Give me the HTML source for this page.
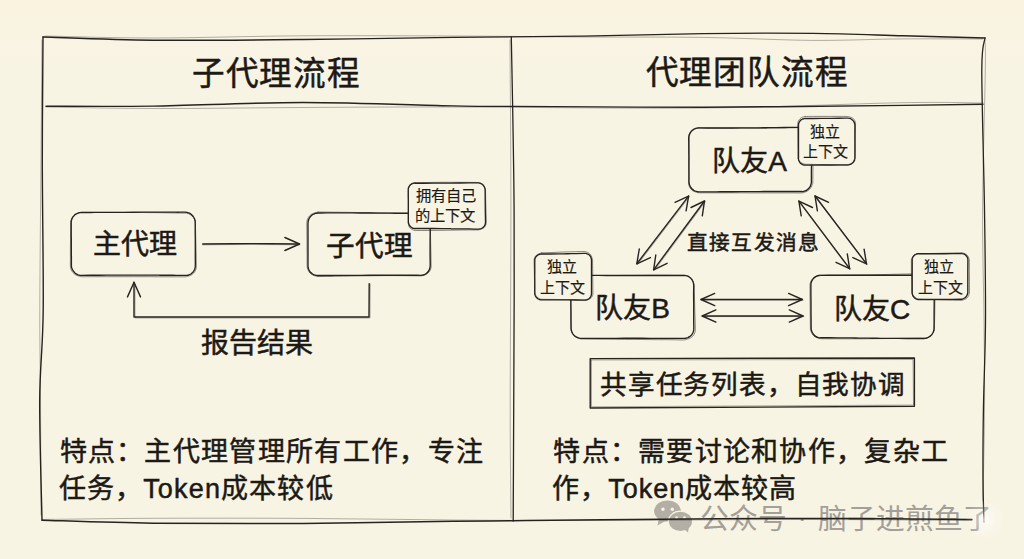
<!DOCTYPE html>
<html lang="zh-CN"><head><meta charset="utf-8">
<style>
html,body{margin:0;padding:0;}
body{width:1024px;height:559px;overflow:hidden;background:linear-gradient(to bottom,#faf3e0 0px,#f8f4e4 70px,#f8f4e4 100%);position:relative;font-family:"Liberation Sans",sans-serif;}
.t{position:absolute;white-space:nowrap;color:#1d1915;line-height:1.448;-webkit-text-stroke:0.5px #1d1915;}
.s{-webkit-text-stroke:0.15px #1d1915;}
.wm{position:absolute;white-space:nowrap;color:#a3a09a;line-height:1.448;}
svg{position:absolute;left:0;top:0;}
</style></head><body>
<svg width="1024" height="559" style="position:absolute;left:0;top:0">
<g fill="#b3afa6">
<ellipse cx="667.5" cy="511" rx="13.4" ry="10.5"/>
<path d="M659,518 L657.5,525.5 L667,520 Z"/>
</g>
<g fill="#f8f4e4"><circle cx="663" cy="509.2" r="1.7"/><circle cx="672.3" cy="509.2" r="1.7"/>
<ellipse cx="680.5" cy="521.4" rx="12.7" ry="10.8"/></g>
<g fill="#b3afa6">
<ellipse cx="680.5" cy="521.4" rx="11.5" ry="9.7"/>
<path d="M684,529 L688,532.5 L689,526 Z"/>
</g>
<g fill="#f8f4e4"><circle cx="676.6" cy="517.5" r="1.3"/><circle cx="684.5" cy="517.5" r="1.3"/></g>
</svg>
<div class="wm" style="left:699.5px;top:498.5px;font-size:28.8px">公众号</div>
<div class="wm" style="left:797.5px;top:497.5px;font-size:28px">·</div>
<div class="wm" style="left:817.5px;top:498.5px;font-size:28.8px">脑子进煎鱼了</div>
<svg width="1024" height="559" viewBox="0 0 1024 559">
<path d="M43.0,37.0 C61.3,37.5 109.7,39.8 153.0,40.2 C196.3,40.6 253.0,40.0 303.0,39.5 C353.0,39.0 406.3,38.0 453.0,37.4 C499.7,36.8 541.3,36.7 583.0,36.1 C624.7,35.5 664.7,34.1 703.0,33.6 C741.3,33.1 779.7,33.0 813.0,33.4 C846.3,33.8 874.3,35.0 903.0,35.8 C931.7,36.6 971.3,37.6 985.0,38.0" fill="none" stroke="#27231f" stroke-width="1.4" stroke-opacity="1.0" stroke-linecap="round" stroke-linejoin="round"/>
<path d="M45.0,36.0 C63.0,36.3 110.0,38.0 153.0,38.0 C196.0,38.0 253.0,36.1 303.0,35.8 C353.0,35.5 406.3,35.8 453.0,36.0 C499.7,36.2 541.3,36.8 583.0,37.0 C624.7,37.2 664.7,36.8 703.0,37.4 C741.3,38.0 779.7,40.1 813.0,40.4 C846.3,40.6 874.7,39.1 903.0,38.9 C931.3,38.7 969.7,39.0 983.0,39.0" fill="none" stroke="#27231f" stroke-width="0.9" stroke-opacity="0.38" stroke-linecap="round" stroke-linejoin="round"/>
<path d="M46.0,106.2 C63.8,106.2 110.2,106.7 153.0,106.1 C195.8,105.5 253.0,102.5 303.0,102.5 C353.0,102.5 418.3,105.2 453.0,105.9 C487.7,106.6 469.3,106.2 511.0,106.4 C552.7,106.6 637.7,107.4 703.0,107.2 C768.3,107.0 856.3,105.9 903.0,105.4 C949.7,104.9 969.7,104.4 983.0,104.2" fill="none" stroke="#27231f" stroke-width="1.4" stroke-opacity="1.0" stroke-linecap="round" stroke-linejoin="round"/>
<path d="M46.0,107.0 C63.8,107.2 110.2,108.4 153.0,108.5 C195.8,108.6 253.0,107.8 303.0,107.5 C353.0,107.2 386.3,106.9 453.0,107.0 C519.7,107.1 628.0,108.7 703.0,108.0 C778.0,107.3 856.3,103.5 903.0,102.7 C949.7,101.9 969.7,103.0 983.0,103.0" fill="none" stroke="#27231f" stroke-width="0.9" stroke-opacity="0.38" stroke-linecap="round" stroke-linejoin="round"/>
<path d="M42.0,520.2 C60.5,520.7 109.5,522.7 153.0,523.2 C196.5,523.7 253.0,523.7 303.0,523.4 C353.0,523.1 418.0,521.7 453.0,521.3 C488.0,520.9 488.0,521.0 513.0,520.8 C538.0,520.5 555.2,520.2 603.0,519.8 C650.8,519.4 738.5,518.4 800.0,518.4 C861.5,518.4 943.3,519.3 972.0,519.5" fill="none" stroke="#27231f" stroke-width="1.5" stroke-opacity="1.0" stroke-linecap="round" stroke-linejoin="round"/>
<path d="M42.0,519.5 C60.5,519.3 109.5,518.5 153.0,518.3 C196.5,518.1 253.0,518.1 303.0,518.4 C353.0,518.7 403.0,519.6 453.0,520.0 C503.0,520.4 545.2,520.6 603.0,520.5 C660.8,520.4 738.5,519.5 800.0,519.5 C861.5,519.5 943.3,520.3 972.0,520.5" fill="none" stroke="#27231f" stroke-width="0.9" stroke-opacity="0.38" stroke-linecap="round" stroke-linejoin="round"/>
<path d="M43.0,37.0 C42.9,57.5 42.3,114.5 42.3,160.0 C42.3,205.5 43.6,270.0 43.2,310.0 C42.8,350.0 39.9,365.0 39.7,400.0 C39.5,435.0 41.6,500.0 42.0,520.0" fill="none" stroke="#27231f" stroke-width="1.4" stroke-opacity="1.0" stroke-linecap="round" stroke-linejoin="round"/>
<path d="M42.0,40.0 C41.8,60.0 41.4,115.0 41.0,160.0 C40.6,205.0 39.9,270.0 39.8,310.0 C39.7,350.0 40.3,365.8 40.5,400.0 C40.7,434.2 40.9,495.8 41.0,515.0" fill="none" stroke="#27231f" stroke-width="0.9" stroke-opacity="0.38" stroke-linecap="round" stroke-linejoin="round"/>
<path d="M511.3,37.0 C511.8,65.8 513.7,147.8 514.1,210.0 C514.5,272.2 513.9,358.2 513.7,410.0 C513.6,461.8 513.3,502.5 513.2,521.0" fill="none" stroke="#27231f" stroke-width="1.3" stroke-opacity="1.0" stroke-linecap="round" stroke-linejoin="round"/>
<path d="M510.0,40.0 C510.1,68.3 510.9,148.3 510.9,210.0 C510.9,271.7 510.2,358.7 510.2,410.0 C510.2,461.3 510.9,500.0 511.0,518.0" fill="none" stroke="#27231f" stroke-width="0.9" stroke-opacity="0.38" stroke-linecap="round" stroke-linejoin="round"/>
<path d="M985.0,38.0 C984.5,43.3 981.9,41.3 981.8,70.0 C981.7,98.7 983.9,168.3 984.5,210.0 C985.1,251.7 985.7,286.7 985.5,320.0 C985.3,353.3 983.8,383.3 983.4,410.0 C983.0,436.7 982.9,461.3 983.0,480.0 C983.1,498.7 983.8,515.0 984.0,522.0" fill="none" stroke="#27231f" stroke-width="1.3" stroke-opacity="1.0" stroke-linecap="round" stroke-linejoin="round"/>
<path d="M985.0,40.0 C985.0,45.0 985.7,41.7 985.3,70.0 C984.9,98.3 982.8,168.3 982.6,210.0 C982.4,251.7 983.7,286.7 984.0,320.0 C984.3,353.3 984.7,380.0 984.5,410.0 C984.3,440.0 983.2,485.0 983.0,500.0" fill="none" stroke="#27231f" stroke-width="0.9" stroke-opacity="0.38" stroke-linecap="round" stroke-linejoin="round"/>
<path d="M81.6,212.5 C83.0,212.5 87.4,212.5 90.2,212.5 C93.1,212.5 96.0,212.4 98.9,212.4 C101.8,212.4 104.6,212.4 107.5,212.4 C110.4,212.4 113.3,212.3 116.2,212.3 C119.0,212.3 121.9,212.3 124.8,212.3 C127.7,212.2 130.6,212.2 133.4,212.2 C136.3,212.2 139.2,212.2 142.1,212.1 C145.0,212.1 147.9,212.1 150.7,212.1 C153.6,212.1 156.5,212.1 159.4,212.1 C162.3,212.1 165.1,212.1 168.0,212.1 C170.9,212.1 173.8,212.1 176.7,212.2 C179.5,212.2 183.5,212.1 185.3,212.2 C187.1,212.3 186.8,212.5 187.5,212.6 C188.2,212.8 188.8,213.0 189.3,213.2 C189.9,213.5 190.5,213.8 191.0,214.2 C191.5,214.6 192.0,215.0 192.4,215.5 C192.9,216.0 193.3,216.5 193.6,217.0 C194.0,217.6 194.3,218.2 194.5,218.8 C194.7,219.4 194.9,220.0 195.1,220.7 C195.2,221.3 195.2,220.8 195.2,222.6 C195.3,224.4 195.2,228.3 195.2,231.2 C195.2,234.1 195.3,237.0 195.3,239.8 C195.3,242.7 195.3,245.6 195.3,248.5 C195.3,251.3 195.3,254.2 195.3,257.1 C195.3,260.0 195.4,263.9 195.3,265.7 C195.3,267.5 195.3,267.0 195.1,267.7 C195.0,268.3 194.8,268.9 194.6,269.5 C194.3,270.1 194.0,270.7 193.6,271.3 C193.2,271.8 192.8,272.3 192.3,272.7 C191.9,273.2 191.3,273.6 190.8,274.0 C190.2,274.3 189.6,274.6 189.0,274.8 C188.3,275.1 187.6,275.3 187.0,275.4 C186.4,275.5 187.0,275.4 185.3,275.4 C183.6,275.3 179.5,275.3 176.7,275.3 C173.8,275.3 170.9,275.2 168.0,275.2 C165.1,275.2 162.3,275.2 159.4,275.2 C156.5,275.1 153.6,275.1 150.7,275.1 C147.9,275.1 145.0,275.1 142.1,275.1 C139.2,275.1 136.3,275.1 133.4,275.1 C130.6,275.1 127.7,275.1 124.8,275.1 C121.9,275.1 119.0,275.1 116.2,275.1 C113.3,275.1 110.4,275.1 107.5,275.1 C104.6,275.2 101.8,275.2 98.9,275.2 C96.0,275.2 93.1,275.2 90.2,275.2 C87.4,275.2 83.3,275.2 81.6,275.3 C79.9,275.3 80.6,275.4 80.0,275.3 C79.4,275.2 78.7,275.0 78.1,274.8 C77.4,274.5 76.8,274.2 76.3,273.9 C75.7,273.5 75.2,273.1 74.7,272.7 C74.2,272.2 73.8,271.7 73.4,271.2 C73.0,270.7 72.7,270.1 72.4,269.5 C72.1,268.9 71.9,268.3 71.7,267.7 C71.6,267.0 71.5,267.5 71.4,265.7 C71.4,263.9 71.4,260.0 71.4,257.1 C71.3,254.2 71.3,251.3 71.3,248.5 C71.3,245.6 71.3,242.7 71.3,239.8 C71.2,237.0 71.2,234.1 71.2,231.2 C71.2,228.3 71.2,224.4 71.2,222.6 C71.3,220.8 71.3,221.2 71.4,220.5 C71.6,219.9 71.8,219.2 72.1,218.6 C72.3,218.0 72.6,217.5 73.0,216.9 C73.4,216.4 73.8,215.9 74.3,215.4 C74.8,215.0 75.3,214.5 75.9,214.2 C76.4,213.8 77.0,213.5 77.6,213.3 C78.2,213.0 78.9,212.9 79.5,212.7 C80.2,212.6 81.3,212.5 81.6,212.5" fill="none" stroke="#27231f" stroke-width="1.35" stroke-opacity="1.0" stroke-linecap="round" stroke-linejoin="round"/>
<path d="M81.6,212.4 C83.0,212.4 87.4,212.4 90.2,212.4 C93.1,212.4 96.0,212.4 98.9,212.4 C101.8,212.4 104.6,212.4 107.5,212.4 C110.4,212.4 113.3,212.4 116.2,212.4 C119.0,212.4 121.9,212.4 124.8,212.4 C127.7,212.4 130.6,212.4 133.4,212.5 C136.3,212.5 139.2,212.5 142.1,212.5 C145.0,212.6 147.9,212.6 150.7,212.6 C153.6,212.7 156.5,212.7 159.4,212.7 C162.3,212.8 165.1,212.8 168.0,212.9 C170.9,212.9 173.8,212.9 176.7,213.0 C179.5,213.0 183.6,213.1 185.3,213.1 C187.0,213.1 186.2,213.0 186.7,213.1 C187.3,213.2 188.0,213.4 188.6,213.7 C189.2,213.9 189.7,214.2 190.3,214.6 C190.8,214.9 191.4,215.3 191.8,215.8 C192.3,216.2 192.8,216.7 193.2,217.3 C193.6,217.8 193.9,218.3 194.2,218.9 C194.5,219.5 194.8,220.1 194.9,220.7 C195.1,221.3 195.2,220.8 195.3,222.6 C195.4,224.4 195.5,228.3 195.6,231.2 C195.6,234.1 195.7,237.0 195.8,239.8 C195.8,242.7 195.9,245.6 196.0,248.5 C196.0,251.3 196.1,254.2 196.2,257.1 C196.2,260.0 196.3,263.9 196.3,265.7 C196.3,267.5 196.3,267.3 196.2,268.1 C196.0,268.8 195.9,269.4 195.6,270.0 C195.4,270.6 195.1,271.2 194.7,271.8 C194.4,272.3 194.0,272.8 193.5,273.3 C193.0,273.8 192.5,274.2 191.9,274.6 C191.4,274.9 190.8,275.3 190.2,275.5 C189.6,275.8 189.1,275.9 188.3,276.1 C187.4,276.3 187.2,276.7 185.3,276.8 C183.4,276.9 179.5,276.8 176.7,276.8 C173.8,276.8 170.9,276.8 168.0,276.8 C165.1,276.8 162.3,276.8 159.4,276.8 C156.5,276.7 153.6,276.7 150.7,276.7 C147.9,276.7 145.0,276.7 142.1,276.7 C139.2,276.7 136.3,276.7 133.4,276.7 C130.6,276.7 127.7,276.7 124.8,276.7 C121.9,276.7 119.0,276.7 116.2,276.7 C113.3,276.7 110.4,276.7 107.5,276.7 C104.6,276.7 101.8,276.7 98.9,276.7 C96.0,276.7 93.1,276.7 90.2,276.7 C87.4,276.7 83.5,276.8 81.6,276.7 C79.7,276.6 79.6,276.2 78.8,276.0 C78.0,275.8 77.5,275.7 76.9,275.4 C76.3,275.2 75.7,274.9 75.1,274.5 C74.6,274.1 74.0,273.7 73.6,273.2 C73.1,272.8 72.6,272.3 72.3,271.7 C71.9,271.2 71.6,270.6 71.3,270.0 C71.0,269.4 70.8,268.8 70.7,268.1 C70.5,267.4 70.4,267.5 70.4,265.7 C70.3,263.9 70.4,260.0 70.4,257.1 C70.4,254.2 70.4,251.3 70.4,248.5 C70.4,245.6 70.5,242.7 70.5,239.8 C70.5,237.0 70.5,234.1 70.6,231.2 C70.6,228.3 70.6,224.4 70.7,222.6 C70.7,220.8 70.8,221.0 71.0,220.4 C71.2,219.7 71.4,219.1 71.7,218.5 C72.0,217.9 72.4,217.3 72.8,216.8 C73.2,216.3 73.6,215.8 74.1,215.3 C74.6,214.9 75.2,214.5 75.7,214.1 C76.3,213.8 76.9,213.5 77.5,213.2 C78.1,213.0 78.8,212.8 79.4,212.7 C80.1,212.5 81.2,212.4 81.6,212.4" fill="none" stroke="#27231f" stroke-width="0.9" stroke-opacity="0.6" stroke-linecap="round" stroke-linejoin="round"/>
<path d="M318.0,213.0 C319.4,213.0 323.7,212.9 326.6,212.9 C329.4,212.9 332.2,212.9 335.1,212.9 C338.0,212.9 340.8,212.9 343.6,212.9 C346.5,212.9 349.3,212.9 352.2,212.9 C355.1,213.0 357.9,213.0 360.8,213.0 C363.6,213.0 366.4,213.0 369.3,213.0 C372.2,213.0 375.0,213.0 377.9,213.1 C380.7,213.1 383.5,213.1 386.4,213.1 C389.2,213.1 392.1,213.2 395.0,213.2 C397.8,213.2 400.6,213.2 403.5,213.2 C406.4,213.2 409.2,213.3 412.1,213.3 C414.9,213.3 418.8,213.3 420.6,213.3 C422.4,213.4 422.0,213.5 422.6,213.6 C423.3,213.8 423.9,214.0 424.4,214.2 C425.0,214.5 425.6,214.8 426.1,215.2 C426.6,215.6 427.1,216.0 427.6,216.5 C428.0,217.0 428.4,217.5 428.7,218.0 C429.1,218.6 429.4,219.2 429.6,219.8 C429.8,220.4 430.0,221.0 430.1,221.7 C430.2,222.3 430.2,221.8 430.2,223.5 C430.2,225.2 430.2,229.1 430.2,231.9 C430.2,234.7 430.2,237.5 430.1,240.3 C430.1,243.1 430.1,245.9 430.1,248.7 C430.1,251.5 430.1,254.3 430.1,257.1 C430.2,259.9 430.2,263.8 430.2,265.5 C430.1,267.2 430.1,266.7 430.0,267.3 C429.9,267.9 429.7,268.6 429.5,269.2 C429.3,269.8 429.0,270.4 428.6,270.9 C428.3,271.5 427.9,272.0 427.4,272.4 C427.0,272.9 426.5,273.3 425.9,273.7 C425.4,274.1 424.8,274.4 424.2,274.6 C423.6,274.9 422.9,275.1 422.3,275.2 C421.7,275.3 422.3,275.2 420.6,275.3 C418.9,275.3 414.9,275.2 412.1,275.2 C409.2,275.2 406.4,275.2 403.5,275.2 C400.6,275.2 397.8,275.2 395.0,275.2 C392.1,275.2 389.3,275.2 386.4,275.2 C383.6,275.2 380.7,275.2 377.9,275.2 C375.0,275.2 372.2,275.2 369.3,275.2 C366.4,275.2 363.6,275.2 360.8,275.3 C357.9,275.3 355.1,275.3 352.2,275.3 C349.4,275.3 346.5,275.3 343.6,275.3 C340.8,275.4 338.0,275.4 335.1,275.4 C332.2,275.4 329.4,275.5 326.6,275.5 C323.7,275.5 319.8,275.6 318.0,275.5 C316.2,275.5 316.6,275.5 316.0,275.4 C315.3,275.2 314.7,275.0 314.1,274.8 C313.5,274.6 312.9,274.2 312.3,273.9 C311.8,273.5 311.3,273.1 310.8,272.6 C310.3,272.2 309.9,271.7 309.6,271.1 C309.2,270.6 308.9,270.0 308.7,269.4 C308.4,268.8 308.3,268.1 308.1,267.5 C308.0,266.8 308.0,267.2 308.0,265.5 C308.0,263.8 308.0,259.9 308.0,257.1 C308.0,254.3 308.0,251.5 308.0,248.7 C308.0,245.9 308.0,243.1 308.0,240.3 C308.0,237.5 308.0,234.7 308.0,231.9 C308.0,229.1 308.0,225.2 308.0,223.5 C308.0,221.8 308.0,222.2 308.2,221.5 C308.3,220.9 308.4,220.2 308.7,219.6 C308.9,219.0 309.2,218.4 309.5,217.9 C309.8,217.3 310.2,216.8 310.7,216.3 C311.1,215.8 311.6,215.4 312.1,215.0 C312.6,214.6 313.2,214.3 313.8,214.1 C314.4,213.8 314.9,213.6 315.6,213.4 C316.3,213.3 317.6,213.0 318.0,213.0" fill="none" stroke="#27231f" stroke-width="1.35" stroke-opacity="1.0" stroke-linecap="round" stroke-linejoin="round"/>
<path d="M318.0,212.0 C319.4,212.0 323.7,212.1 326.6,212.1 C329.4,212.1 332.2,212.1 335.1,212.2 C338.0,212.2 340.8,212.3 343.6,212.3 C346.5,212.3 349.3,212.4 352.2,212.4 C355.1,212.5 357.9,212.5 360.8,212.6 C363.6,212.6 366.4,212.7 369.3,212.7 C372.2,212.8 375.0,212.8 377.9,212.9 C380.7,212.9 383.5,213.0 386.4,213.0 C389.2,213.1 392.1,213.2 395.0,213.2 C397.8,213.3 400.6,213.3 403.5,213.4 C406.4,213.5 409.2,213.5 412.1,213.6 C414.9,213.6 418.9,213.7 420.6,213.7 C422.3,213.8 421.6,213.8 422.2,213.9 C422.8,214.0 423.4,214.2 424.0,214.5 C424.5,214.8 425.1,215.1 425.6,215.5 C426.1,215.8 426.6,216.3 427.1,216.7 C427.5,217.2 428.0,217.7 428.3,218.2 C428.7,218.7 429.0,219.3 429.3,219.9 C429.5,220.5 429.8,221.1 429.9,221.7 C430.1,222.3 430.2,221.8 430.2,223.5 C430.3,225.2 430.3,229.1 430.4,231.9 C430.5,234.7 430.5,237.5 430.6,240.3 C430.7,243.1 430.7,245.9 430.8,248.7 C430.9,251.5 430.9,254.3 431.0,257.1 C431.0,259.9 431.1,263.7 431.1,265.5 C431.1,267.3 431.1,267.0 431.0,267.7 C430.9,268.4 430.8,269.0 430.5,269.6 C430.3,270.2 430.0,270.8 429.6,271.4 C429.2,271.9 428.8,272.4 428.3,272.9 C427.9,273.3 427.3,273.8 426.8,274.1 C426.2,274.5 425.6,274.8 424.9,275.0 C424.3,275.3 423.7,275.4 423.0,275.5 C422.2,275.7 422.4,275.8 420.6,275.9 C418.8,275.9 414.9,275.8 412.1,275.8 C409.2,275.7 406.4,275.7 403.5,275.7 C400.6,275.7 397.8,275.6 395.0,275.6 C392.1,275.6 389.3,275.6 386.4,275.6 C383.6,275.7 380.7,275.7 377.9,275.7 C375.0,275.7 372.2,275.7 369.3,275.8 C366.4,275.8 363.6,275.8 360.8,275.9 C357.9,275.9 355.1,276.0 352.2,276.0 C349.4,276.1 346.5,276.1 343.6,276.2 C340.8,276.2 338.0,276.2 335.1,276.3 C332.2,276.3 329.4,276.4 326.6,276.4 C323.7,276.4 319.9,276.6 318.0,276.5 C316.1,276.4 316.0,276.0 315.2,275.8 C314.4,275.6 313.9,275.5 313.3,275.2 C312.7,275.0 312.1,274.7 311.5,274.3 C311.0,273.9 310.5,273.5 310.0,273.0 C309.6,272.5 309.1,272.0 308.8,271.5 C308.4,270.9 308.1,270.3 307.9,269.7 C307.6,269.1 307.5,268.5 307.3,267.8 C307.2,267.1 307.1,267.3 307.1,265.5 C307.0,263.7 307.1,259.9 307.1,257.1 C307.1,254.3 307.1,251.5 307.0,248.7 C307.0,245.9 307.0,243.1 307.0,240.3 C307.0,237.5 306.9,234.7 306.9,231.9 C306.9,229.1 306.8,225.3 306.8,223.5 C306.8,221.7 306.9,221.8 307.0,221.1 C307.1,220.4 307.3,219.8 307.5,219.2 C307.7,218.5 308.0,217.9 308.4,217.4 C308.7,216.8 309.1,216.3 309.6,215.8 C310.0,215.3 310.5,214.9 311.1,214.5 C311.6,214.1 312.2,213.8 312.8,213.5 C313.4,213.3 313.9,213.2 314.7,212.9 C315.6,212.7 317.5,212.2 318.0,212.0" fill="none" stroke="#27231f" stroke-width="0.9" stroke-opacity="0.6" stroke-linecap="round" stroke-linejoin="round"/>
<path d="M415.0,183.0 L424.0,183.0 L433.0,183.0 L442.0,183.0 L451.0,183.0 L460.0,183.0 L469.0,183.0 L478.0,183.0 L479.4,183.1 L480.7,183.5 L481.9,184.2 L482.9,185.1 L483.8,186.1 L484.5,187.3 L484.9,188.6 L485.0,190.0 L485.0,200.6 L485.0,211.2 L485.0,221.8 L484.9,223.2 L484.5,224.5 L483.8,225.7 L482.9,226.7 L481.9,227.6 L480.7,228.3 L479.4,228.7 L478.0,228.8 L469.0,228.8 L460.0,228.8 L451.0,228.8 L442.0,228.8 L433.0,228.8 L424.0,228.8 L415.0,228.8 L413.6,228.7 L412.3,228.3 L411.1,227.6 L410.1,226.7 L409.2,225.7 L408.5,224.5 L408.1,223.2 L408.0,221.8 L408.0,211.2 L408.0,200.6 L408.0,190.0 L408.1,188.6 L408.5,187.3 L409.2,186.1 L410.1,185.1 L411.1,184.2 L412.3,183.5 L413.6,183.1 L415.0,183.0Z" fill="#f8f4e4" stroke="none"/>
<path d="M415.0,183.2 C416.5,183.2 421.0,183.2 424.0,183.2 C427.0,183.2 430.0,183.2 433.0,183.1 C436.0,183.1 439.0,183.1 442.0,183.1 C445.0,183.1 448.0,183.1 451.0,183.1 C454.0,183.0 457.0,183.0 460.0,183.0 C463.0,183.0 466.0,183.0 469.0,182.9 C472.0,182.9 476.3,182.9 478.0,182.9 C479.7,182.9 479.0,183.0 479.5,183.1 C479.9,183.2 480.3,183.3 480.8,183.5 C481.2,183.7 481.6,183.9 482.0,184.1 C482.3,184.4 482.7,184.7 483.0,185.0 C483.3,185.3 483.6,185.7 483.9,186.1 C484.1,186.5 484.3,186.9 484.5,187.3 C484.7,187.7 484.8,188.2 484.9,188.6 C485.0,189.1 485.1,188.0 485.1,190.0 C485.2,192.0 485.2,197.1 485.2,200.6 C485.3,204.1 485.3,207.7 485.3,211.2 C485.4,214.7 485.5,219.8 485.5,221.8 C485.5,223.8 485.5,222.9 485.4,223.4 C485.3,223.9 485.2,224.3 485.1,224.8 C484.9,225.2 484.7,225.6 484.4,226.0 C484.2,226.4 483.9,226.8 483.5,227.1 C483.2,227.4 482.8,227.7 482.4,228.0 C482.0,228.2 481.6,228.4 481.1,228.6 C480.7,228.7 480.2,228.8 479.7,228.9 C479.2,229.0 479.8,229.1 478.0,229.1 C476.2,229.1 472.0,229.0 469.0,228.9 C466.0,228.9 463.0,228.8 460.0,228.8 C457.0,228.7 454.0,228.7 451.0,228.7 C448.0,228.6 445.0,228.6 442.0,228.6 C439.0,228.6 436.0,228.6 433.0,228.5 C430.0,228.5 427.0,228.5 424.0,228.5 C421.0,228.5 416.7,228.5 415.0,228.5 C413.3,228.5 414.3,228.5 413.9,228.5 C413.5,228.4 413.0,228.3 412.6,228.1 C412.2,227.9 411.8,227.7 411.4,227.4 C411.0,227.2 410.7,226.9 410.4,226.6 C410.1,226.2 409.8,225.9 409.5,225.5 C409.3,225.1 409.1,224.7 408.9,224.3 C408.7,223.9 408.6,223.4 408.5,223.0 C408.4,222.6 408.4,223.8 408.4,221.8 C408.3,219.8 408.3,214.7 408.3,211.2 C408.3,207.7 408.3,204.1 408.3,200.6 C408.2,197.1 408.2,192.0 408.2,190.0 C408.2,188.0 408.2,189.1 408.3,188.7 C408.3,188.3 408.5,187.8 408.6,187.4 C408.8,186.9 409.0,186.5 409.3,186.1 C409.5,185.8 409.8,185.4 410.1,185.1 C410.4,184.8 410.8,184.5 411.2,184.2 C411.6,184.0 412.0,183.8 412.4,183.6 C412.8,183.4 413.3,183.3 413.8,183.2 C414.2,183.1 414.8,183.2 415.0,183.2" fill="none" stroke="#27231f" stroke-width="1.35" stroke-opacity="1.0" stroke-linecap="round" stroke-linejoin="round"/>
<path d="M415.0,182.7 C416.5,182.7 421.0,182.6 424.0,182.6 C427.0,182.5 430.0,182.5 433.0,182.4 C436.0,182.4 439.0,182.4 442.0,182.3 C445.0,182.3 448.0,182.3 451.0,182.3 C454.0,182.3 457.0,182.3 460.0,182.3 C463.0,182.3 466.0,182.3 469.0,182.4 C472.0,182.4 476.2,182.4 478.0,182.5 C479.8,182.6 479.2,182.8 479.7,182.9 C480.2,183.1 480.5,183.2 480.9,183.4 C481.3,183.6 481.6,183.9 482.0,184.1 C482.3,184.4 482.7,184.7 483.0,185.0 C483.3,185.4 483.6,185.7 483.8,186.1 C484.1,186.5 484.3,186.9 484.5,187.3 C484.8,187.7 484.9,188.1 485.1,188.5 C485.2,189.0 485.4,188.0 485.5,190.0 C485.6,192.0 485.6,197.1 485.7,200.6 C485.8,204.1 485.9,207.7 486.0,211.2 C486.0,214.7 486.2,219.7 486.2,221.8 C486.2,223.9 486.2,223.2 486.1,223.7 C486.0,224.3 485.9,224.7 485.7,225.1 C485.6,225.5 485.3,226.0 485.1,226.4 C484.8,226.7 484.5,227.1 484.1,227.4 C483.8,227.7 483.4,228.0 483.0,228.3 C482.6,228.5 482.1,228.7 481.7,228.9 C481.2,229.1 480.9,229.1 480.3,229.3 C479.7,229.5 479.9,229.8 478.0,229.9 C476.1,230.0 472.0,229.9 469.0,229.9 C466.0,230.0 463.0,230.0 460.0,230.0 C457.0,230.1 454.0,230.1 451.0,230.2 C448.0,230.2 445.0,230.3 442.0,230.3 C439.0,230.3 436.0,230.4 433.0,230.4 C430.0,230.4 427.0,230.5 424.0,230.5 C421.0,230.5 416.9,230.6 415.0,230.4 C413.1,230.3 413.0,229.8 412.4,229.5 C411.8,229.3 411.6,229.2 411.2,229.0 C410.9,228.8 410.5,228.5 410.2,228.2 C409.9,227.8 409.7,227.5 409.4,227.1 C409.2,226.7 409.0,226.3 408.8,225.9 C408.7,225.4 408.6,225.0 408.5,224.5 C408.4,224.1 408.3,223.6 408.3,223.1 C408.3,222.6 408.3,223.8 408.3,221.8 C408.4,219.8 408.4,214.7 408.5,211.2 C408.5,207.7 408.5,204.1 408.5,200.6 C408.5,197.1 408.5,192.0 408.5,190.0 C408.5,188.0 408.5,189.2 408.5,188.8 C408.6,188.4 408.7,187.9 408.9,187.5 C409.0,187.1 409.2,186.6 409.4,186.2 C409.7,185.9 409.9,185.5 410.2,185.1 C410.5,184.8 410.8,184.5 411.2,184.2 C411.5,183.9 411.9,183.7 412.3,183.5 C412.7,183.3 413.0,183.2 413.5,183.0 C413.9,182.9 414.7,182.8 415.0,182.7" fill="none" stroke="#27231f" stroke-width="0.9" stroke-opacity="0.6" stroke-linecap="round" stroke-linejoin="round"/>
<path d="M202.7,244.0 C210.6,243.9 233.9,243.6 250.0,243.6 C266.1,243.6 291.2,243.9 299.5,244.0" fill="none" stroke="#27231f" stroke-width="1.4" stroke-opacity="1.0" stroke-linecap="round" stroke-linejoin="round"/>
<path d="M202.7,244.9 C210.6,244.8 233.9,244.5 250.0,244.5 C266.1,244.5 291.2,244.8 299.5,244.9" fill="none" stroke="#27231f" stroke-width="0.8" stroke-opacity="0.45" stroke-linecap="round" stroke-linejoin="round"/>
<path d="M284.9,237.5 L299.5,244.0 L284.9,250.5" fill="none" stroke="#27231f" stroke-width="1.4" stroke-opacity="1.0" stroke-linecap="round" stroke-linejoin="round"/>
<path d="M369.2,283.7 L369.0,317.0 L134.0,317.0 L134.0,282.3" fill="none" stroke="#27231f" stroke-width="1.4" stroke-opacity="1.0" stroke-linecap="round" stroke-linejoin="round"/>
<path d="M370.2,284.0 L370.0,318.0 L135.0,318.0 L135.0,284.0" fill="none" stroke="#27231f" stroke-width="0.8" stroke-opacity="0.45" stroke-linecap="round" stroke-linejoin="round"/>
<path d="M127.5,296.9 L134.0,282.3 L140.5,296.9" fill="none" stroke="#27231f" stroke-width="1.4" stroke-opacity="1.0" stroke-linecap="round" stroke-linejoin="round"/>
<path d="M699.0,127.9 C700.4,127.9 704.7,127.9 707.5,128.0 C710.4,128.0 713.2,128.0 716.1,128.0 C719.0,128.0 721.8,128.0 724.6,128.0 C727.5,128.0 730.4,128.0 733.2,128.0 C736.1,127.9 738.9,127.9 741.8,127.9 C744.6,127.9 747.4,127.9 750.3,127.8 C753.1,127.8 756.0,127.8 758.9,127.8 C761.7,127.7 764.5,127.7 767.4,127.7 C770.2,127.6 773.1,127.6 776.0,127.6 C778.8,127.5 781.6,127.5 784.5,127.5 C787.4,127.5 790.2,127.4 793.0,127.4 C795.9,127.4 799.8,127.3 801.6,127.4 C803.4,127.4 803.4,127.7 804.1,127.9 C804.8,128.0 805.4,128.2 806.0,128.4 C806.6,128.7 807.1,129.0 807.7,129.4 C808.2,129.8 808.7,130.2 809.1,130.7 C809.6,131.2 810.0,131.7 810.3,132.3 C810.7,132.8 810.9,133.4 811.2,134.0 C811.4,134.7 811.5,135.3 811.6,136.0 C811.7,136.6 811.7,136.2 811.7,138.0 C811.7,139.8 811.7,143.9 811.6,146.8 C811.6,149.7 811.6,152.7 811.6,155.6 C811.5,158.5 811.5,161.5 811.5,164.4 C811.5,167.3 811.4,170.3 811.4,173.2 C811.4,176.1 811.4,180.2 811.4,182.0 C811.3,183.8 811.3,183.2 811.1,183.8 C811.0,184.5 810.8,185.1 810.5,185.7 C810.3,186.3 810.0,186.9 809.6,187.4 C809.2,187.9 808.8,188.4 808.3,188.9 C807.8,189.3 807.3,189.8 806.8,190.1 C806.2,190.5 805.6,190.8 805.0,191.0 C804.4,191.2 803.7,191.5 803.1,191.6 C802.6,191.6 803.3,191.5 801.6,191.5 C799.9,191.5 795.9,191.5 793.1,191.5 C790.2,191.5 787.4,191.5 784.5,191.5 C781.6,191.5 778.8,191.5 776.0,191.5 C773.1,191.5 770.2,191.5 767.4,191.5 C764.5,191.5 761.7,191.5 758.9,191.6 C756.0,191.6 753.1,191.6 750.3,191.6 C747.4,191.6 744.6,191.6 741.8,191.6 C738.9,191.7 736.1,191.7 733.2,191.7 C730.4,191.7 727.5,191.7 724.6,191.7 C721.8,191.7 719.0,191.8 716.1,191.8 C713.2,191.8 710.4,191.8 707.5,191.8 C704.7,191.8 700.7,191.8 699.0,191.8 C697.3,191.8 697.8,191.8 697.2,191.7 C696.6,191.6 695.9,191.4 695.3,191.2 C694.7,190.9 694.1,190.6 693.6,190.2 C693.1,189.9 692.5,189.5 692.1,189.0 C691.6,188.5 691.2,188.0 690.8,187.5 C690.5,187.0 690.1,186.4 689.9,185.8 C689.6,185.2 689.4,184.5 689.3,183.9 C689.1,183.3 689.1,183.8 689.0,182.0 C689.0,180.2 689.0,176.1 689.0,173.2 C689.0,170.3 688.9,167.3 688.9,164.4 C688.9,161.5 688.9,158.5 688.9,155.6 C688.8,152.7 688.8,149.7 688.8,146.8 C688.8,143.9 688.7,139.8 688.7,138.0 C688.8,136.2 688.8,136.6 688.9,135.9 C689.0,135.3 689.2,134.7 689.5,134.0 C689.7,133.4 690.0,132.9 690.4,132.3 C690.8,131.8 691.2,131.3 691.7,130.8 C692.1,130.3 692.7,129.9 693.2,129.6 C693.8,129.2 694.4,128.9 695.0,128.7 C695.6,128.4 696.3,128.2 696.9,128.1 C697.6,128.0 698.7,127.9 699.0,127.9" fill="none" stroke="#27231f" stroke-width="1.35" stroke-opacity="1.0" stroke-linecap="round" stroke-linejoin="round"/>
<path d="M699.0,128.0 C700.4,128.0 704.7,128.0 707.5,128.0 C710.4,128.0 713.2,128.0 716.1,128.0 C719.0,128.0 721.8,128.1 724.6,128.1 C727.5,128.1 730.4,128.1 733.2,128.1 C736.1,128.1 738.9,128.1 741.8,128.1 C744.6,128.2 747.4,128.2 750.3,128.2 C753.1,128.2 756.0,128.2 758.9,128.2 C761.7,128.2 764.5,128.1 767.4,128.1 C770.2,128.1 773.1,128.1 776.0,128.0 C778.8,128.0 781.6,128.0 784.5,127.9 C787.4,127.9 790.2,127.8 793.0,127.8 C795.9,127.7 799.8,127.5 801.6,127.5 C803.4,127.6 803.4,127.7 804.1,127.8 C804.9,128.0 805.6,128.1 806.2,128.3 C806.9,128.5 807.6,128.8 808.2,129.1 C808.8,129.5 809.4,129.9 809.9,130.3 C810.4,130.8 810.9,131.3 811.3,131.8 C811.7,132.3 812.1,132.9 812.3,133.5 C812.6,134.1 812.8,134.7 813.0,135.4 C813.1,136.2 813.2,136.1 813.3,138.0 C813.3,139.9 813.3,143.9 813.2,146.8 C813.2,149.7 813.2,152.7 813.2,155.6 C813.1,158.5 813.1,161.5 813.0,164.4 C813.0,167.3 812.9,170.3 812.9,173.2 C812.9,176.1 812.9,180.1 812.8,182.0 C812.7,183.9 812.6,183.6 812.4,184.3 C812.2,185.0 812.0,185.6 811.7,186.2 C811.4,186.8 811.1,187.4 810.7,187.9 C810.3,188.5 809.9,189.0 809.4,189.5 C809.0,189.9 808.5,190.3 807.9,190.7 C807.4,191.1 806.8,191.4 806.2,191.7 C805.6,191.9 805.1,192.1 804.3,192.3 C803.5,192.5 803.5,192.8 801.6,192.9 C799.7,193.0 795.9,192.9 793.1,192.9 C790.2,192.9 787.4,192.9 784.5,192.9 C781.6,192.9 778.8,192.9 776.0,192.9 C773.1,192.9 770.2,192.9 767.4,192.9 C764.5,192.9 761.7,192.9 758.9,192.9 C756.0,192.9 753.1,192.9 750.3,192.9 C747.4,192.9 744.6,192.8 741.8,192.8 C738.9,192.8 736.1,192.8 733.2,192.8 C730.4,192.8 727.5,192.8 724.6,192.8 C721.8,192.8 719.0,192.8 716.1,192.8 C713.2,192.8 710.4,192.8 707.5,192.8 C704.7,192.8 700.9,192.9 699.0,192.8 C697.1,192.7 697.1,192.4 696.4,192.2 C695.6,192.0 695.1,191.9 694.5,191.6 C693.9,191.4 693.3,191.1 692.7,190.7 C692.2,190.3 691.7,189.9 691.2,189.4 C690.8,188.9 690.4,188.4 690.0,187.9 C689.7,187.3 689.4,186.7 689.2,186.1 C688.9,185.5 688.8,184.8 688.7,184.2 C688.6,183.5 688.6,183.8 688.6,182.0 C688.6,180.2 688.7,176.1 688.7,173.2 C688.8,170.3 688.8,167.3 688.9,164.4 C688.9,161.5 688.9,158.5 689.0,155.6 C689.0,152.7 689.1,149.7 689.1,146.8 C689.1,143.9 689.1,139.8 689.2,138.0 C689.2,136.2 689.3,136.8 689.4,136.1 C689.5,135.5 689.7,134.9 690.0,134.3 C690.2,133.7 690.6,133.1 690.9,132.5 C691.3,132.0 691.7,131.5 692.1,131.0 C692.6,130.6 693.1,130.1 693.6,129.8 C694.1,129.4 694.7,129.1 695.3,128.8 C695.9,128.6 696.5,128.4 697.1,128.2 C697.7,128.1 698.7,128.1 699.0,128.0" fill="none" stroke="#27231f" stroke-width="0.9" stroke-opacity="0.6" stroke-linecap="round" stroke-linejoin="round"/>
<path d="M805.0,118.2 L813.5,118.2 L822.0,118.2 L830.6,118.2 L839.1,118.2 L847.6,118.2 L849.0,118.3 L850.3,118.7 L851.5,119.4 L852.5,120.3 L853.4,121.3 L854.1,122.5 L854.5,123.8 L854.6,125.2 L854.6,136.0 L854.6,146.9 L854.6,157.7 L854.5,159.1 L854.1,160.4 L853.4,161.6 L852.5,162.6 L851.5,163.5 L850.3,164.2 L849.0,164.6 L847.6,164.7 L839.1,164.7 L830.6,164.7 L822.0,164.7 L813.5,164.7 L805.0,164.7 L803.6,164.6 L802.3,164.2 L801.1,163.5 L800.1,162.6 L799.2,161.6 L798.5,160.4 L798.1,159.1 L798.0,157.7 L798.0,146.9 L798.0,136.0 L798.0,125.2 L798.1,123.8 L798.5,122.5 L799.2,121.3 L800.1,120.3 L801.1,119.4 L802.3,118.7 L803.6,118.3 L805.0,118.2Z" fill="#f8f4e4" stroke="none"/>
<path d="M805.0,118.5 C806.4,118.5 810.7,118.5 813.5,118.5 C816.4,118.4 819.2,118.4 822.0,118.4 C824.9,118.3 827.7,118.3 830.6,118.3 C833.4,118.2 836.2,118.2 839.1,118.2 C841.9,118.2 845.9,118.1 847.6,118.1 C849.3,118.1 848.6,118.2 849.0,118.3 C849.5,118.3 849.9,118.5 850.4,118.6 C850.8,118.8 851.2,119.0 851.6,119.3 C852.0,119.5 852.3,119.8 852.6,120.2 C853.0,120.5 853.3,120.9 853.5,121.2 C853.8,121.6 854.0,122.0 854.2,122.4 C854.4,122.9 854.5,123.3 854.6,123.7 C854.7,124.2 854.8,123.1 854.9,125.2 C854.9,127.3 854.9,132.4 854.9,136.0 C854.9,139.6 855.0,143.3 855.0,146.9 C855.0,150.5 855.0,155.6 855.0,157.7 C855.0,159.8 854.9,158.8 854.8,159.3 C854.7,159.8 854.6,160.2 854.4,160.6 C854.2,161.0 853.9,161.4 853.7,161.8 C853.4,162.1 853.1,162.5 852.7,162.8 C852.4,163.1 852.0,163.4 851.6,163.6 C851.2,163.9 850.8,164.1 850.4,164.3 C849.9,164.4 849.5,164.5 849.0,164.6 C848.6,164.7 849.3,164.8 847.6,164.8 C845.9,164.9 841.9,164.9 839.1,164.9 C836.2,164.9 833.4,164.9 830.6,165.0 C827.7,165.0 824.9,165.0 822.0,165.0 C819.2,165.1 816.4,165.1 813.5,165.1 C810.7,165.1 806.7,165.2 805.0,165.1 C803.3,165.1 803.8,165.0 803.4,164.8 C802.9,164.7 802.5,164.6 802.1,164.4 C801.7,164.2 801.3,163.9 801.0,163.6 C800.6,163.4 800.3,163.0 800.0,162.7 C799.7,162.3 799.5,161.9 799.3,161.5 C799.1,161.1 798.9,160.7 798.7,160.2 C798.6,159.8 798.5,159.3 798.5,158.9 C798.4,158.4 798.4,159.7 798.5,157.7 C798.5,155.7 798.5,150.5 798.5,146.9 C798.5,143.3 798.5,139.6 798.5,136.0 C798.5,132.4 798.5,127.2 798.5,125.2 C798.5,123.2 798.5,124.5 798.6,124.1 C798.6,123.7 798.8,123.2 798.9,122.8 C799.1,122.4 799.3,122.0 799.6,121.6 C799.8,121.2 800.1,120.9 800.4,120.5 C800.7,120.2 801.1,119.9 801.5,119.7 C801.8,119.4 802.2,119.2 802.6,119.0 C803.1,118.9 803.5,118.7 803.9,118.6 C804.3,118.5 804.8,118.6 805.0,118.5" fill="none" stroke="#27231f" stroke-width="1.35" stroke-opacity="1.0" stroke-linecap="round" stroke-linejoin="round"/>
<path d="M805.0,116.5 C806.4,116.4 810.7,116.4 813.5,116.4 C816.4,116.4 819.2,116.4 822.0,116.4 C824.9,116.4 827.7,116.4 830.6,116.4 C833.4,116.4 836.2,116.4 839.1,116.4 C841.9,116.4 845.8,116.4 847.6,116.5 C849.4,116.6 849.5,116.9 850.2,117.1 C850.8,117.3 851.1,117.4 851.5,117.5 C852.0,117.7 852.4,118.0 852.8,118.2 C853.2,118.5 853.5,118.8 853.9,119.2 C854.2,119.5 854.5,119.9 854.7,120.4 C854.9,120.8 855.1,121.2 855.2,121.7 C855.4,122.2 855.4,122.6 855.5,123.2 C855.5,123.8 855.6,123.1 855.5,125.2 C855.5,127.3 855.3,132.4 855.2,136.0 C855.1,139.6 855.0,143.3 854.9,146.9 C854.8,150.5 854.7,155.7 854.6,157.7 C854.6,159.7 854.5,158.6 854.4,159.0 C854.3,159.4 854.1,159.9 853.9,160.3 C853.8,160.7 853.6,161.1 853.4,161.5 C853.1,161.9 852.9,162.3 852.6,162.7 C852.3,163.1 852.0,163.4 851.7,163.7 C851.4,164.0 851.0,164.3 850.6,164.5 C850.2,164.7 849.9,164.8 849.4,165.0 C848.9,165.1 849.3,165.2 847.6,165.3 C845.9,165.3 841.9,165.2 839.1,165.2 C836.2,165.1 833.4,165.1 830.6,165.0 C827.7,164.9 824.9,164.8 822.0,164.7 C819.2,164.6 816.4,164.5 813.5,164.4 C810.7,164.4 806.6,164.3 805.0,164.2 C803.4,164.1 804.5,164.2 804.1,164.1 C803.8,164.0 803.3,163.8 802.9,163.6 C802.5,163.4 802.1,163.2 801.7,163.0 C801.3,162.8 800.9,162.5 800.6,162.2 C800.2,161.9 799.9,161.6 799.6,161.3 C799.3,160.9 799.1,160.6 798.8,160.2 C798.6,159.8 798.4,159.4 798.3,159.0 C798.2,158.5 798.1,159.7 798.0,157.7 C798.0,155.7 798.0,150.5 797.9,146.9 C797.9,143.3 797.8,139.6 797.8,136.0 C797.8,132.4 797.7,127.3 797.7,125.2 C797.7,123.1 797.7,124.1 797.8,123.6 C797.8,123.1 797.9,122.6 798.0,122.2 C798.2,121.7 798.3,121.3 798.5,120.8 C798.7,120.4 799.0,120.0 799.3,119.6 C799.5,119.2 799.8,118.9 800.2,118.6 C800.5,118.2 800.9,118.0 801.3,117.7 C801.7,117.5 801.9,117.4 802.5,117.2 C803.1,117.0 804.6,116.6 805.0,116.5" fill="none" stroke="#27231f" stroke-width="0.9" stroke-opacity="0.6" stroke-linecap="round" stroke-linejoin="round"/>
<path d="M581.6,275.3 C583.0,275.3 587.3,275.3 590.1,275.4 C593.0,275.4 595.9,275.4 598.7,275.4 C601.6,275.5 604.4,275.5 607.2,275.5 C610.1,275.5 613.0,275.5 615.8,275.5 C618.7,275.5 621.5,275.5 624.4,275.5 C627.2,275.5 630.1,275.5 632.9,275.5 C635.8,275.5 638.6,275.5 641.5,275.5 C644.3,275.5 647.1,275.5 650.0,275.5 C652.9,275.5 655.7,275.5 658.6,275.5 C661.4,275.5 664.2,275.5 667.1,275.5 C670.0,275.5 672.8,275.5 675.7,275.5 C678.5,275.5 682.5,275.5 684.2,275.5 C685.9,275.5 685.4,275.5 686.0,275.7 C686.7,275.8 687.3,276.0 687.9,276.2 C688.5,276.5 689.0,276.8 689.5,277.2 C690.1,277.6 690.6,278.0 691.0,278.5 C691.4,278.9 691.8,279.5 692.2,280.0 C692.5,280.6 692.8,281.1 693.0,281.7 C693.2,282.4 693.4,283.0 693.5,283.6 C693.6,284.2 693.6,283.7 693.7,285.4 C693.7,287.1 693.6,291.1 693.6,294.0 C693.6,296.9 693.6,299.7 693.7,302.6 C693.7,305.5 693.7,308.3 693.7,311.2 C693.7,314.1 693.7,316.9 693.7,319.8 C693.7,322.7 693.8,326.7 693.8,328.4 C693.8,330.1 693.8,329.6 693.7,330.2 C693.6,330.8 693.4,331.5 693.2,332.1 C693.0,332.7 692.7,333.3 692.3,333.9 C692.0,334.4 691.6,334.9 691.1,335.4 C690.7,335.9 690.2,336.3 689.6,336.7 C689.1,337.0 688.5,337.3 687.9,337.6 C687.3,337.8 686.7,338.0 686.1,338.2 C685.5,338.3 685.9,338.3 684.2,338.3 C682.5,338.3 678.5,338.3 675.7,338.3 C672.8,338.3 670.0,338.3 667.1,338.3 C664.2,338.3 661.4,338.3 658.6,338.3 C655.7,338.3 652.9,338.3 650.0,338.3 C647.1,338.2 644.3,338.2 641.5,338.2 C638.6,338.2 635.8,338.2 632.9,338.2 C630.1,338.2 627.2,338.2 624.4,338.2 C621.5,338.3 618.7,338.3 615.8,338.3 C613.0,338.3 610.1,338.3 607.2,338.3 C604.4,338.3 601.6,338.3 598.7,338.3 C595.9,338.3 593.0,338.3 590.2,338.4 C587.3,338.4 583.4,338.4 581.6,338.4 C579.8,338.4 580.3,338.3 579.6,338.2 C579.0,338.1 578.3,337.9 577.7,337.7 C577.1,337.4 576.5,337.1 575.9,336.8 C575.4,336.4 574.8,336.0 574.3,335.6 C573.9,335.1 573.4,334.6 573.0,334.1 C572.7,333.5 572.3,333.0 572.0,332.4 C571.8,331.8 571.6,331.2 571.4,330.5 C571.2,329.8 571.2,330.2 571.1,328.4 C571.0,326.6 571.1,322.7 571.0,319.8 C571.0,316.9 571.0,314.1 571.0,311.2 C571.0,308.3 570.9,305.5 570.9,302.6 C570.9,299.7 570.9,296.9 570.9,294.0 C570.9,291.1 570.8,287.2 570.9,285.4 C570.9,283.6 571.0,283.9 571.1,283.2 C571.3,282.5 571.5,281.9 571.7,281.3 C572.0,280.7 572.3,280.1 572.7,279.6 C573.1,279.1 573.6,278.5 574.0,278.1 C574.5,277.6 575.1,277.2 575.7,276.9 C576.2,276.5 576.8,276.2 577.5,276.0 C578.1,275.8 578.8,275.6 579.5,275.5 C580.1,275.4 581.2,275.3 581.6,275.3" fill="none" stroke="#27231f" stroke-width="1.35" stroke-opacity="1.0" stroke-linecap="round" stroke-linejoin="round"/>
<path d="M581.6,275.4 C583.0,275.4 587.3,275.4 590.1,275.5 C593.0,275.5 595.9,275.5 598.7,275.5 C601.6,275.5 604.4,275.5 607.2,275.5 C610.1,275.5 613.0,275.5 615.8,275.5 C618.7,275.5 621.5,275.5 624.4,275.4 C627.2,275.4 630.1,275.4 632.9,275.4 C635.8,275.3 638.6,275.3 641.5,275.3 C644.3,275.3 647.1,275.3 650.0,275.2 C652.9,275.2 655.7,275.2 658.6,275.2 C661.4,275.2 664.2,275.2 667.1,275.2 C670.0,275.2 672.8,275.3 675.7,275.3 C678.5,275.3 682.5,275.3 684.2,275.3 C685.9,275.4 685.5,275.5 686.1,275.6 C686.7,275.8 687.3,276.0 687.9,276.2 C688.5,276.5 689.0,276.8 689.5,277.2 C690.1,277.6 690.6,278.0 691.0,278.5 C691.5,278.9 691.9,279.4 692.2,280.0 C692.6,280.5 692.9,281.1 693.2,281.7 C693.4,282.3 693.7,282.9 693.8,283.5 C694.0,284.1 694.1,283.7 694.2,285.4 C694.2,287.1 694.3,291.1 694.4,294.0 C694.4,296.9 694.5,299.7 694.6,302.6 C694.7,305.5 694.8,308.3 694.8,311.2 C694.9,314.1 695.0,316.9 695.1,319.8 C695.2,322.7 695.3,326.6 695.3,328.4 C695.4,330.2 695.3,330.1 695.3,330.8 C695.2,331.6 695.0,332.2 694.8,332.8 C694.6,333.4 694.3,334.1 694.0,334.6 C693.6,335.2 693.2,335.7 692.8,336.2 C692.3,336.7 691.8,337.1 691.2,337.5 C690.7,337.9 690.1,338.2 689.5,338.4 C688.8,338.7 688.4,338.8 687.5,339.0 C686.6,339.3 686.2,339.8 684.2,339.9 C682.2,340.0 678.5,339.9 675.7,339.8 C672.8,339.8 670.0,339.8 667.1,339.7 C664.2,339.7 661.4,339.7 658.6,339.7 C655.7,339.6 652.9,339.6 650.0,339.6 C647.1,339.6 644.3,339.5 641.5,339.5 C638.6,339.5 635.8,339.5 632.9,339.4 C630.1,339.4 627.2,339.4 624.4,339.4 C621.5,339.4 618.7,339.3 615.8,339.3 C613.0,339.3 610.1,339.3 607.2,339.2 C604.4,339.2 601.6,339.2 598.7,339.2 C595.9,339.1 593.0,339.1 590.2,339.1 C587.3,339.0 583.4,339.1 581.6,339.0 C579.8,338.9 579.9,338.6 579.2,338.5 C578.5,338.3 578.0,338.1 577.4,337.8 C576.8,337.6 576.2,337.3 575.7,336.9 C575.2,336.5 574.7,336.1 574.2,335.6 C573.7,335.2 573.3,334.7 572.9,334.1 C572.6,333.6 572.2,333.0 571.9,332.4 C571.7,331.8 571.5,331.2 571.3,330.5 C571.1,329.9 571.0,330.2 571.0,328.4 C570.9,326.6 570.9,322.7 570.8,319.8 C570.8,316.9 570.7,314.1 570.7,311.2 C570.7,308.3 570.6,305.5 570.6,302.6 C570.6,299.7 570.6,296.9 570.5,294.0 C570.5,291.1 570.5,287.2 570.5,285.4 C570.6,283.6 570.7,283.8 570.8,283.1 C571.0,282.4 571.2,281.8 571.5,281.2 C571.8,280.6 572.1,280.0 572.5,279.5 C572.9,279.0 573.4,278.5 573.9,278.0 C574.4,277.6 575.0,277.2 575.6,276.9 C576.2,276.5 576.8,276.2 577.5,276.0 C578.1,275.8 578.8,275.6 579.5,275.5 C580.2,275.4 581.3,275.4 581.6,275.4" fill="none" stroke="#27231f" stroke-width="0.9" stroke-opacity="0.6" stroke-linecap="round" stroke-linejoin="round"/>
<path d="M541.8,253.4 L550.3,253.4 L558.8,253.4 L567.3,253.4 L575.8,253.4 L584.3,253.4 L585.7,253.5 L587.0,253.9 L588.2,254.6 L589.2,255.5 L590.1,256.5 L590.8,257.7 L591.2,259.0 L591.3,260.4 L591.3,271.3 L591.3,282.1 L591.3,293.0 L591.2,294.4 L590.8,295.7 L590.1,296.9 L589.2,297.9 L588.2,298.8 L587.0,299.5 L585.7,299.9 L584.3,300.0 L575.8,300.0 L567.3,300.0 L558.8,300.0 L550.3,300.0 L541.8,300.0 L540.4,299.9 L539.1,299.5 L537.9,298.8 L536.9,297.9 L536.0,296.9 L535.3,295.7 L534.9,294.4 L534.8,293.0 L534.8,282.1 L534.8,271.3 L534.8,260.4 L534.9,259.0 L535.3,257.7 L536.0,256.5 L536.9,255.5 L537.9,254.6 L539.1,253.9 L540.4,253.5 L541.8,253.4Z" fill="#f8f4e4" stroke="none"/>
<path d="M541.8,254.0 C543.2,254.0 547.5,254.0 550.3,254.0 C553.1,253.9 556.0,253.9 558.8,253.9 C561.6,253.8 564.5,253.8 567.3,253.7 C570.1,253.7 573.0,253.6 575.8,253.6 C578.6,253.5 582.6,253.4 584.3,253.4 C586.0,253.4 585.3,253.4 585.8,253.4 C586.3,253.5 586.7,253.6 587.2,253.8 C587.6,253.9 588.0,254.1 588.4,254.4 C588.8,254.6 589.2,254.9 589.5,255.2 C589.8,255.6 590.1,255.9 590.4,256.3 C590.6,256.7 590.8,257.2 591.0,257.6 C591.1,258.0 591.2,258.5 591.3,258.9 C591.4,259.4 591.4,258.3 591.5,260.4 C591.5,262.5 591.5,267.6 591.5,271.3 C591.5,274.9 591.5,278.5 591.5,282.1 C591.5,285.8 591.5,290.9 591.5,293.0 C591.5,295.1 591.5,294.0 591.4,294.5 C591.3,295.0 591.2,295.4 591.0,295.9 C590.9,296.3 590.7,296.7 590.4,297.1 C590.1,297.5 589.8,297.8 589.5,298.2 C589.2,298.5 588.8,298.8 588.4,299.0 C588.0,299.3 587.6,299.5 587.2,299.6 C586.7,299.8 586.3,299.9 585.8,300.0 C585.3,300.1 586.0,300.1 584.3,300.1 C582.6,300.1 578.6,300.0 575.8,300.0 C573.0,300.0 570.1,300.0 567.3,299.9 C564.5,299.9 561.6,299.9 558.8,299.9 C556.0,299.9 553.1,299.9 550.3,299.9 C547.5,299.9 543.4,299.9 541.8,299.9 C540.2,299.9 540.9,299.9 540.5,299.8 C540.1,299.7 539.6,299.6 539.2,299.4 C538.7,299.3 538.3,299.0 537.9,298.8 C537.6,298.5 537.2,298.2 536.9,297.9 C536.5,297.6 536.3,297.3 536.0,296.9 C535.7,296.5 535.5,296.1 535.3,295.7 C535.2,295.3 535.0,294.8 534.9,294.4 C534.8,293.9 534.8,295.0 534.8,293.0 C534.7,291.0 534.8,285.8 534.8,282.1 C534.8,278.5 534.7,274.9 534.8,271.3 C534.8,267.6 534.7,262.4 534.8,260.4 C534.8,258.4 534.8,259.5 534.9,259.0 C535.0,258.6 535.2,258.2 535.4,257.8 C535.6,257.4 535.8,257.0 536.1,256.6 C536.4,256.3 536.7,255.9 537.1,255.6 C537.4,255.3 537.8,255.1 538.2,254.9 C538.6,254.6 539.1,254.4 539.5,254.3 C539.9,254.1 540.5,254.0 540.9,254.0 C541.2,253.9 541.6,254.0 541.8,254.0" fill="none" stroke="#27231f" stroke-width="1.35" stroke-opacity="1.0" stroke-linecap="round" stroke-linejoin="round"/>
<path d="M541.8,252.8 C543.2,252.8 547.5,252.7 550.3,252.6 C553.1,252.5 556.0,252.3 558.8,252.2 C561.6,252.1 564.5,252.0 567.3,251.9 C570.1,251.8 573.0,251.8 575.8,251.7 C578.6,251.6 582.4,251.5 584.3,251.5 C586.2,251.6 586.3,252.0 587.0,252.2 C587.6,252.4 587.9,252.5 588.3,252.7 C588.7,252.9 589.1,253.2 589.4,253.5 C589.8,253.8 590.1,254.2 590.4,254.5 C590.7,254.9 590.9,255.3 591.2,255.7 C591.4,256.1 591.6,256.6 591.8,257.0 C591.9,257.5 592.0,257.8 592.2,258.4 C592.3,259.0 592.5,258.3 592.6,260.4 C592.6,262.5 592.6,267.6 592.7,271.3 C592.7,274.9 592.8,278.5 592.8,282.1 C592.8,285.8 592.9,290.8 592.9,293.0 C592.9,295.2 592.7,294.6 592.5,295.2 C592.4,295.8 592.3,296.1 592.1,296.6 C591.8,297.0 591.6,297.4 591.2,297.7 C590.9,298.1 590.5,298.4 590.1,298.7 C589.7,298.9 589.3,299.2 588.8,299.4 C588.4,299.6 587.9,299.7 587.4,299.8 C586.9,299.9 586.3,300.0 585.8,300.0 C585.3,300.1 586.0,300.0 584.3,300.0 C582.6,299.9 578.6,299.8 575.8,299.8 C573.0,299.7 570.1,299.7 567.3,299.6 C564.5,299.6 561.6,299.5 558.8,299.5 C556.0,299.5 553.1,299.4 550.3,299.4 C547.5,299.4 543.4,299.3 541.8,299.3 C540.2,299.3 541.3,299.4 541.0,299.3 C540.6,299.2 540.1,299.1 539.7,298.9 C539.3,298.7 538.9,298.5 538.6,298.2 C538.2,298.0 537.8,297.7 537.5,297.4 C537.2,297.1 536.9,296.8 536.6,296.5 C536.3,296.1 536.0,295.7 535.8,295.4 C535.5,295.0 535.3,294.6 535.2,294.2 C535.0,293.8 534.9,295.0 534.8,293.0 C534.7,291.0 534.6,285.8 534.5,282.1 C534.4,278.5 534.3,274.9 534.3,271.3 C534.2,267.6 534.1,262.5 534.1,260.4 C534.1,258.3 534.2,259.2 534.3,258.6 C534.4,258.1 534.6,257.8 534.8,257.3 C535.0,256.9 535.2,256.5 535.5,256.2 C535.8,255.8 536.2,255.5 536.5,255.2 C536.9,254.9 537.3,254.6 537.7,254.4 C538.1,254.1 538.5,253.9 538.9,253.7 C539.3,253.5 539.7,253.4 540.2,253.3 C540.6,253.1 541.5,252.9 541.8,252.8" fill="none" stroke="#27231f" stroke-width="0.9" stroke-opacity="0.6" stroke-linecap="round" stroke-linejoin="round"/>
<path d="M820.7,275.3 C822.1,275.3 826.4,275.3 829.3,275.2 C832.1,275.2 835.0,275.2 837.9,275.2 C840.7,275.2 843.6,275.2 846.5,275.2 C849.3,275.2 852.2,275.2 855.0,275.2 C857.9,275.2 860.8,275.2 863.6,275.2 C866.5,275.2 869.3,275.2 872.2,275.2 C875.1,275.2 877.9,275.2 880.8,275.2 C883.6,275.2 886.5,275.2 889.4,275.2 C892.2,275.2 895.1,275.2 898.0,275.2 C900.8,275.2 903.7,275.2 906.5,275.2 C909.4,275.2 912.3,275.2 915.1,275.2 C918.0,275.2 921.9,275.1 923.7,275.1 C925.5,275.2 925.2,275.3 925.9,275.4 C926.6,275.6 927.2,275.7 927.8,276.0 C928.5,276.2 929.1,276.5 929.6,276.9 C930.2,277.2 930.7,277.7 931.2,278.1 C931.7,278.6 932.1,279.1 932.5,279.6 C932.9,280.2 933.2,280.8 933.4,281.4 C933.7,282.0 933.9,282.6 934.0,283.3 C934.2,283.9 934.2,283.6 934.2,285.4 C934.3,287.2 934.2,291.1 934.2,294.0 C934.2,296.9 934.2,299.7 934.2,302.6 C934.2,305.5 934.2,308.3 934.1,311.2 C934.1,314.1 934.1,316.9 934.1,319.8 C934.1,322.7 934.1,326.6 934.0,328.4 C934.0,330.2 933.9,329.8 933.8,330.5 C933.6,331.1 933.4,331.7 933.2,332.3 C932.9,332.9 932.6,333.5 932.2,334.0 C931.8,334.6 931.4,335.1 930.9,335.6 C930.5,336.0 930.0,336.4 929.4,336.8 C928.9,337.2 928.3,337.5 927.7,337.7 C927.1,338.0 926.4,338.1 925.8,338.3 C925.1,338.4 925.5,338.5 923.7,338.5 C921.9,338.6 918.0,338.5 915.1,338.5 C912.3,338.5 909.4,338.5 906.5,338.5 C903.7,338.5 900.8,338.5 898.0,338.4 C895.1,338.4 892.2,338.4 889.4,338.4 C886.5,338.3 883.6,338.3 880.8,338.3 C877.9,338.3 875.1,338.2 872.2,338.2 C869.3,338.2 866.5,338.1 863.6,338.1 C860.8,338.1 857.9,338.0 855.0,338.0 C852.2,338.0 849.3,337.9 846.5,337.9 C843.6,337.9 840.7,337.8 837.9,337.8 C835.0,337.8 832.1,337.8 829.3,337.7 C826.4,337.7 822.4,337.7 820.7,337.7 C819.0,337.7 819.9,337.9 819.4,337.8 C818.9,337.8 818.1,337.5 817.5,337.3 C816.9,337.0 816.3,336.7 815.8,336.4 C815.2,336.0 814.7,335.6 814.3,335.2 C813.8,334.7 813.3,334.2 813.0,333.7 C812.6,333.2 812.3,332.6 812.0,332.0 C811.7,331.4 811.5,330.8 811.4,330.2 C811.2,329.6 811.2,330.1 811.2,328.4 C811.1,326.7 811.1,322.7 811.1,319.8 C811.1,316.9 811.0,314.1 811.0,311.2 C811.0,308.3 811.0,305.5 811.0,302.6 C811.0,299.7 810.9,296.9 810.9,294.0 C810.9,291.1 810.9,287.2 810.9,285.4 C810.9,283.6 810.9,284.1 811.0,283.5 C811.1,282.9 811.3,282.2 811.5,281.6 C811.8,281.0 812.1,280.4 812.4,279.9 C812.8,279.3 813.2,278.8 813.6,278.3 C814.1,277.9 814.6,277.4 815.1,277.1 C815.6,276.7 816.2,276.4 816.8,276.1 C817.4,275.9 818.0,275.7 818.7,275.5 C819.3,275.4 820.4,275.3 820.7,275.3" fill="none" stroke="#27231f" stroke-width="1.35" stroke-opacity="1.0" stroke-linecap="round" stroke-linejoin="round"/>
<path d="M820.7,275.3 C822.1,275.3 826.4,275.3 829.3,275.3 C832.1,275.3 835.0,275.3 837.9,275.3 C840.7,275.3 843.6,275.3 846.5,275.2 C849.3,275.2 852.2,275.2 855.0,275.1 C857.9,275.1 860.8,275.0 863.6,275.0 C866.5,274.9 869.3,274.8 872.2,274.8 C875.1,274.7 877.9,274.6 880.8,274.6 C883.6,274.5 886.5,274.4 889.4,274.4 C892.2,274.3 895.1,274.2 898.0,274.2 C900.8,274.1 903.7,274.0 906.5,274.0 C909.4,273.9 912.3,273.9 915.1,273.8 C918.0,273.8 921.7,273.6 923.7,273.7 C925.7,273.9 926.3,274.4 927.2,274.7 C928.1,275.0 928.5,275.0 929.1,275.3 C929.7,275.5 930.3,275.9 930.9,276.2 C931.4,276.6 931.9,277.1 932.4,277.5 C932.9,278.0 933.3,278.6 933.6,279.1 C934.0,279.7 934.3,280.3 934.5,280.9 C934.7,281.6 934.9,282.1 935.0,282.9 C935.1,283.6 935.2,283.5 935.2,285.4 C935.2,287.3 935.1,291.1 935.1,294.0 C935.0,296.9 935.0,299.7 934.9,302.6 C934.9,305.5 934.8,308.3 934.8,311.2 C934.7,314.1 934.7,316.9 934.6,319.8 C934.5,322.7 934.5,326.6 934.4,328.4 C934.3,330.2 934.2,329.9 934.0,330.6 C933.8,331.2 933.6,331.8 933.3,332.4 C933.0,333.0 932.6,333.5 932.2,334.0 C931.8,334.6 931.3,335.1 930.8,335.5 C930.3,335.9 929.8,336.4 929.2,336.7 C928.6,337.0 928.0,337.3 927.4,337.6 C926.8,337.8 926.1,338.0 925.5,338.1 C924.9,338.2 925.4,338.2 923.7,338.2 C922.0,338.2 918.0,338.2 915.1,338.2 C912.3,338.3 909.4,338.3 906.5,338.3 C903.7,338.3 900.8,338.4 898.0,338.4 C895.1,338.4 892.2,338.4 889.4,338.5 C886.5,338.5 883.6,338.5 880.8,338.6 C877.9,338.6 875.1,338.6 872.2,338.7 C869.3,338.7 866.5,338.7 863.6,338.8 C860.8,338.8 857.9,338.8 855.0,338.8 C852.2,338.8 849.3,338.8 846.5,338.8 C843.6,338.8 840.7,338.8 837.9,338.8 C835.0,338.8 832.1,338.8 829.3,338.8 C826.4,338.8 822.5,338.8 820.7,338.7 C818.9,338.6 819.2,338.5 818.5,338.3 C817.9,338.2 817.3,338.0 816.7,337.7 C816.1,337.5 815.5,337.2 815.0,336.8 C814.5,336.4 814.0,336.0 813.5,335.5 C813.1,335.1 812.6,334.6 812.3,334.0 C811.9,333.5 811.6,332.9 811.3,332.3 C811.0,331.7 810.8,331.1 810.7,330.4 C810.5,329.8 810.4,330.2 810.4,328.4 C810.3,326.6 810.3,322.7 810.3,319.8 C810.2,316.9 810.2,314.1 810.2,311.2 C810.1,308.3 810.1,305.5 810.1,302.6 C810.1,299.7 810.0,296.9 810.0,294.0 C810.0,291.1 810.0,287.2 810.0,285.4 C810.0,283.6 810.1,283.9 810.2,283.2 C810.4,282.5 810.6,281.9 810.9,281.3 C811.1,280.7 811.5,280.1 811.9,279.6 C812.3,279.1 812.7,278.6 813.2,278.1 C813.7,277.7 814.2,277.3 814.8,276.9 C815.4,276.6 816.0,276.3 816.7,276.0 C817.3,275.8 817.9,275.6 818.6,275.5 C819.3,275.4 820.4,275.3 820.7,275.3" fill="none" stroke="#27231f" stroke-width="0.9" stroke-opacity="0.6" stroke-linecap="round" stroke-linejoin="round"/>
<path d="M919.0,253.4 L927.4,253.4 L935.8,253.4 L944.2,253.4 L952.6,253.4 L961.0,253.4 L962.4,253.5 L963.7,253.9 L964.9,254.6 L965.9,255.5 L966.8,256.5 L967.5,257.7 L967.9,259.0 L968.0,260.4 L968.0,270.9 L968.0,281.5 L968.0,292.0 L967.9,293.4 L967.5,294.7 L966.8,295.9 L965.9,296.9 L964.9,297.8 L963.7,298.5 L962.4,298.9 L961.0,299.0 L952.6,299.0 L944.2,299.0 L935.8,299.0 L927.4,299.0 L919.0,299.0 L917.6,298.9 L916.3,298.5 L915.1,297.8 L914.1,296.9 L913.2,295.9 L912.5,294.7 L912.1,293.4 L912.0,292.0 L912.0,281.5 L912.0,270.9 L912.0,260.4 L912.1,259.0 L912.5,257.7 L913.2,256.5 L914.1,255.5 L915.1,254.6 L916.3,253.9 L917.6,253.5 L919.0,253.4Z" fill="#f8f4e4" stroke="none"/>
<path d="M919.0,253.7 C920.4,253.7 924.6,253.7 927.4,253.7 C930.2,253.7 933.0,253.7 935.8,253.7 C938.6,253.7 941.4,253.7 944.2,253.7 C947.0,253.7 949.8,253.7 952.6,253.6 C955.4,253.6 959.4,253.6 961.0,253.6 C962.6,253.5 961.9,253.5 962.3,253.6 C962.8,253.6 963.3,253.8 963.7,253.9 C964.1,254.1 964.6,254.3 964.9,254.5 C965.3,254.8 965.7,255.1 966.0,255.4 C966.3,255.7 966.6,256.1 966.9,256.5 C967.1,256.9 967.3,257.3 967.5,257.7 C967.6,258.1 967.8,258.6 967.8,259.1 C967.9,259.5 967.9,258.4 967.9,260.4 C967.9,262.4 967.8,267.4 967.8,270.9 C967.8,274.4 967.8,278.0 967.8,281.5 C967.8,285.0 967.8,290.0 967.8,292.0 C967.8,294.0 967.8,292.8 967.7,293.3 C967.6,293.7 967.5,294.2 967.3,294.6 C967.2,295.0 967.0,295.4 966.7,295.8 C966.5,296.2 966.2,296.6 965.9,296.9 C965.6,297.3 965.3,297.6 964.9,297.8 C964.5,298.1 964.1,298.3 963.7,298.5 C963.3,298.7 962.9,298.9 962.5,299.0 C962.0,299.1 962.6,299.2 961.0,299.2 C959.4,299.3 955.4,299.3 952.6,299.3 C949.8,299.3 947.0,299.3 944.2,299.4 C941.4,299.4 938.6,299.4 935.8,299.4 C933.0,299.5 930.2,299.5 927.4,299.5 C924.6,299.5 920.7,299.6 919.0,299.5 C917.3,299.5 917.8,299.4 917.3,299.3 C916.7,299.1 916.4,299.0 916.0,298.8 C915.5,298.6 915.1,298.4 914.8,298.1 C914.4,297.8 914.1,297.5 913.8,297.1 C913.5,296.8 913.3,296.4 913.0,296.0 C912.8,295.6 912.6,295.1 912.5,294.7 C912.4,294.3 912.3,293.8 912.2,293.3 C912.1,292.9 912.2,294.0 912.2,292.0 C912.2,290.0 912.2,285.0 912.2,281.5 C912.2,278.0 912.2,274.4 912.2,270.9 C912.2,267.4 912.2,262.4 912.2,260.4 C912.2,258.4 912.2,259.6 912.3,259.1 C912.3,258.7 912.5,258.2 912.6,257.8 C912.8,257.4 913.0,256.9 913.3,256.6 C913.5,256.2 913.8,255.8 914.1,255.5 C914.4,255.2 914.8,254.9 915.2,254.7 C915.6,254.4 916.0,254.2 916.4,254.0 C916.9,253.9 917.4,253.8 917.8,253.7 C918.2,253.6 918.8,253.7 919.0,253.7" fill="none" stroke="#27231f" stroke-width="1.35" stroke-opacity="1.0" stroke-linecap="round" stroke-linejoin="round"/>
<path d="M919.0,253.7 C920.4,253.7 924.6,253.6 927.4,253.6 C930.2,253.5 933.0,253.5 935.8,253.4 C938.6,253.3 941.4,253.3 944.2,253.2 C947.0,253.1 949.8,253.1 952.6,253.0 C955.4,252.9 959.3,252.8 961.0,252.8 C962.7,252.8 962.3,252.9 962.9,253.0 C963.4,253.1 963.8,253.2 964.3,253.4 C964.7,253.5 965.2,253.7 965.6,254.0 C966.0,254.2 966.4,254.5 966.7,254.8 C967.1,255.2 967.4,255.5 967.7,255.9 C967.9,256.3 968.2,256.7 968.4,257.1 C968.6,257.5 968.7,257.9 968.9,258.4 C969.0,259.0 969.2,258.3 969.3,260.4 C969.4,262.5 969.3,267.4 969.3,270.9 C969.4,274.4 969.4,278.0 969.4,281.5 C969.4,285.0 969.5,289.9 969.4,292.0 C969.4,294.1 969.2,293.5 969.1,294.1 C969.0,294.7 968.9,295.0 968.7,295.5 C968.5,295.9 968.2,296.3 968.0,296.7 C967.7,297.1 967.4,297.5 967.1,297.8 C966.7,298.2 966.4,298.5 966.0,298.8 C965.6,299.0 965.1,299.3 964.7,299.4 C964.3,299.6 964.0,299.7 963.3,299.9 C962.7,300.0 962.8,300.3 961.0,300.3 C959.2,300.4 955.4,300.3 952.6,300.2 C949.8,300.2 947.0,300.1 944.2,300.1 C941.4,300.0 938.6,299.9 935.8,299.9 C933.0,299.8 930.2,299.7 927.4,299.6 C924.6,299.5 920.6,299.4 919.0,299.3 C917.4,299.2 918.1,299.0 917.6,298.9 C917.2,298.7 916.9,298.5 916.5,298.3 C916.1,298.1 915.7,297.8 915.4,297.6 C915.0,297.3 914.7,297.0 914.4,296.7 C914.1,296.4 913.8,296.0 913.5,295.7 C913.2,295.3 912.9,294.9 912.7,294.6 C912.5,294.2 912.3,293.8 912.1,293.4 C912.0,292.9 911.9,294.0 911.8,292.0 C911.7,290.0 911.6,285.0 911.6,281.5 C911.5,278.0 911.4,274.4 911.4,270.9 C911.4,267.4 911.3,262.4 911.4,260.4 C911.4,258.4 911.5,259.2 911.7,258.7 C911.8,258.3 912.0,257.9 912.2,257.5 C912.4,257.1 912.7,256.7 913.0,256.4 C913.3,256.1 913.7,255.7 914.1,255.5 C914.4,255.2 914.8,254.9 915.3,254.7 C915.7,254.5 916.1,254.3 916.6,254.2 C917.0,254.0 917.5,253.9 917.9,253.8 C918.3,253.7 918.8,253.7 919.0,253.7" fill="none" stroke="#27231f" stroke-width="0.9" stroke-opacity="0.6" stroke-linecap="round" stroke-linejoin="round"/>
<path d="M590.2,358.6 L914.4,358.0 L914.4,406.3 L590.2,408.0 L590.2,358.6" fill="none" stroke="#27231f" stroke-width="1.4" stroke-opacity="1.0" stroke-linecap="round" stroke-linejoin="round"/>
<path d="M591.5,360.0 L913.0,359.5 L913.5,405.0 L591.5,406.8 L591.5,360.0" fill="none" stroke="#27231f" stroke-width="0.8" stroke-opacity="0.45" stroke-linecap="round" stroke-linejoin="round"/>
<path d="M688.6,196.1 L636.8,263.8" fill="none" stroke="#27231f" stroke-width="1.4" stroke-opacity="1.0" stroke-linecap="round" stroke-linejoin="round"/>
<path d="M689.5,196.7 L637.7,264.4" fill="none" stroke="#27231f" stroke-width="0.7" stroke-opacity="0.5" stroke-linecap="round" stroke-linejoin="round"/>
<path d="M675.0,202.3 L688.6,196.1 L686.1,210.9" fill="none" stroke="#27231f" stroke-width="1.4" stroke-opacity="1.0" stroke-linecap="round" stroke-linejoin="round"/>
<path d="M650.4,257.6 L636.8,263.8 L639.3,249.0" fill="none" stroke="#27231f" stroke-width="1.4" stroke-opacity="1.0" stroke-linecap="round" stroke-linejoin="round"/>
<path d="M704.5,201.0 L653.6,269.8" fill="none" stroke="#27231f" stroke-width="1.4" stroke-opacity="1.0" stroke-linecap="round" stroke-linejoin="round"/>
<path d="M705.4,201.6 L654.5,270.4" fill="none" stroke="#27231f" stroke-width="0.7" stroke-opacity="0.5" stroke-linecap="round" stroke-linejoin="round"/>
<path d="M691.0,207.5 L704.5,201.0 L702.3,215.8" fill="none" stroke="#27231f" stroke-width="1.4" stroke-opacity="1.0" stroke-linecap="round" stroke-linejoin="round"/>
<path d="M667.1,263.3 L653.6,269.8 L655.8,255.0" fill="none" stroke="#27231f" stroke-width="1.4" stroke-opacity="1.0" stroke-linecap="round" stroke-linejoin="round"/>
<path d="M798.9,201.1 L849.6,268.7" fill="none" stroke="#27231f" stroke-width="1.4" stroke-opacity="1.0" stroke-linecap="round" stroke-linejoin="round"/>
<path d="M799.8,201.7 L850.5,269.3" fill="none" stroke="#27231f" stroke-width="0.7" stroke-opacity="0.5" stroke-linecap="round" stroke-linejoin="round"/>
<path d="M801.2,215.9 L798.9,201.1 L812.5,207.5" fill="none" stroke="#27231f" stroke-width="1.4" stroke-opacity="1.0" stroke-linecap="round" stroke-linejoin="round"/>
<path d="M847.3,253.9 L849.6,268.7 L836.0,262.3" fill="none" stroke="#27231f" stroke-width="1.4" stroke-opacity="1.0" stroke-linecap="round" stroke-linejoin="round"/>
<path d="M815.0,196.0 L866.5,263.9" fill="none" stroke="#27231f" stroke-width="1.4" stroke-opacity="1.0" stroke-linecap="round" stroke-linejoin="round"/>
<path d="M815.9,196.6 L867.4,264.5" fill="none" stroke="#27231f" stroke-width="0.7" stroke-opacity="0.5" stroke-linecap="round" stroke-linejoin="round"/>
<path d="M817.4,210.8 L815.0,196.0 L828.6,202.3" fill="none" stroke="#27231f" stroke-width="1.4" stroke-opacity="1.0" stroke-linecap="round" stroke-linejoin="round"/>
<path d="M864.1,249.1 L866.5,263.9 L852.9,257.6" fill="none" stroke="#27231f" stroke-width="1.4" stroke-opacity="1.0" stroke-linecap="round" stroke-linejoin="round"/>
<path d="M701.0,299.5 L802.3,299.5" fill="none" stroke="#27231f" stroke-width="1.4" stroke-opacity="1.0" stroke-linecap="round" stroke-linejoin="round"/>
<path d="M701.9,300.1 L803.2,300.1" fill="none" stroke="#27231f" stroke-width="0.7" stroke-opacity="0.5" stroke-linecap="round" stroke-linejoin="round"/>
<path d="M714.7,305.6 L701.0,299.5 L714.7,293.4" fill="none" stroke="#27231f" stroke-width="1.4" stroke-opacity="1.0" stroke-linecap="round" stroke-linejoin="round"/>
<path d="M788.6,293.4 L802.3,299.5 L788.6,305.6" fill="none" stroke="#27231f" stroke-width="1.4" stroke-opacity="1.0" stroke-linecap="round" stroke-linejoin="round"/>
<path d="M702.2,316.0 L803.0,316.0" fill="none" stroke="#27231f" stroke-width="1.4" stroke-opacity="1.0" stroke-linecap="round" stroke-linejoin="round"/>
<path d="M703.1,316.6 L803.9,316.6" fill="none" stroke="#27231f" stroke-width="0.7" stroke-opacity="0.5" stroke-linecap="round" stroke-linejoin="round"/>
<path d="M715.9,322.1 L702.2,316.0 L715.9,309.9" fill="none" stroke="#27231f" stroke-width="1.4" stroke-opacity="1.0" stroke-linecap="round" stroke-linejoin="round"/>
<path d="M789.3,309.9 L803.0,316.0 L789.3,322.1" fill="none" stroke="#27231f" stroke-width="1.4" stroke-opacity="1.0" stroke-linecap="round" stroke-linejoin="round"/>
</svg>
<div style="position:absolute;left:955px;top:490px;width:60px;height:60px;background:radial-gradient(circle at 30px 30px, rgba(255,255,255,0.75), rgba(255,255,255,0.35) 6px, rgba(255,255,255,0) 20px)"></div>
<div class="t" style="left:191.8px;top:49.9px;font-size:32.6px;letter-spacing:0.72px;">子代理流程</div>
<div class="t" style="left:645.5px;top:49.1px;font-size:32.6px;letter-spacing:0.86px;">代理团队流程</div>
<div class="t" style="left:92.8px;top:225.4px;font-size:28px;">主代理</div>
<div class="t" style="left:326.2px;top:225.8px;font-size:28.6px;">子代理</div>
<div class="t s" style="left:415.9px;top:185.4px;font-size:15.3px;">拥有自己</div>
<div class="t s" style="left:415.0px;top:205.3px;font-size:15.3px;">的上下文</div>
<div class="t" style="left:200.5px;top:324.0px;font-size:28px;">报告结果</div>
<div class="t" style="left:59.5px;top:432.8px;font-size:27px;letter-spacing:1.32px;">特点：主代理管理所有工作，专注</div>
<div class="t" style="left:58.6px;top:469.8px;font-size:27px;letter-spacing:1.18px;">任务，Token成本较低</div>
<div class="t" style="left:712.2px;top:141.7px;font-size:28px;">队友A</div>
<div class="t s" style="left:809.8px;top:121.0px;font-size:15px;">独立</div>
<div class="t s" style="left:803.2px;top:140.8px;font-size:15px;">上下文</div>
<div class="t" style="left:686.9px;top:227.6px;font-size:20.7px;letter-spacing:1.30px;">直接互发消息</div>
<div class="t" style="left:595.3px;top:289.4px;font-size:28px;">队友B</div>
<div class="t s" style="left:547.1px;top:256.3px;font-size:15px;">独立</div>
<div class="t s" style="left:540.1px;top:276.9px;font-size:15px;">上下文</div>
<div class="t" style="left:833.9px;top:290.4px;font-size:28px;">队友C</div>
<div class="t s" style="left:924.2px;top:256.3px;font-size:15px;">独立</div>
<div class="t s" style="left:917.7px;top:276.7px;font-size:15px;">上下文</div>
<div class="t" style="left:600.0px;top:365.9px;font-size:26.6px;letter-spacing:0.81px;">共享任务列表，自我协调</div>
<div class="t" style="left:553.4px;top:432.9px;font-size:27px;letter-spacing:1.26px;">特点：需要讨论和协作，复杂工</div>
<div class="t" style="left:552.4px;top:469.5px;font-size:27px;letter-spacing:0.99px;">作，Token成本较高</div>
</body></html>
